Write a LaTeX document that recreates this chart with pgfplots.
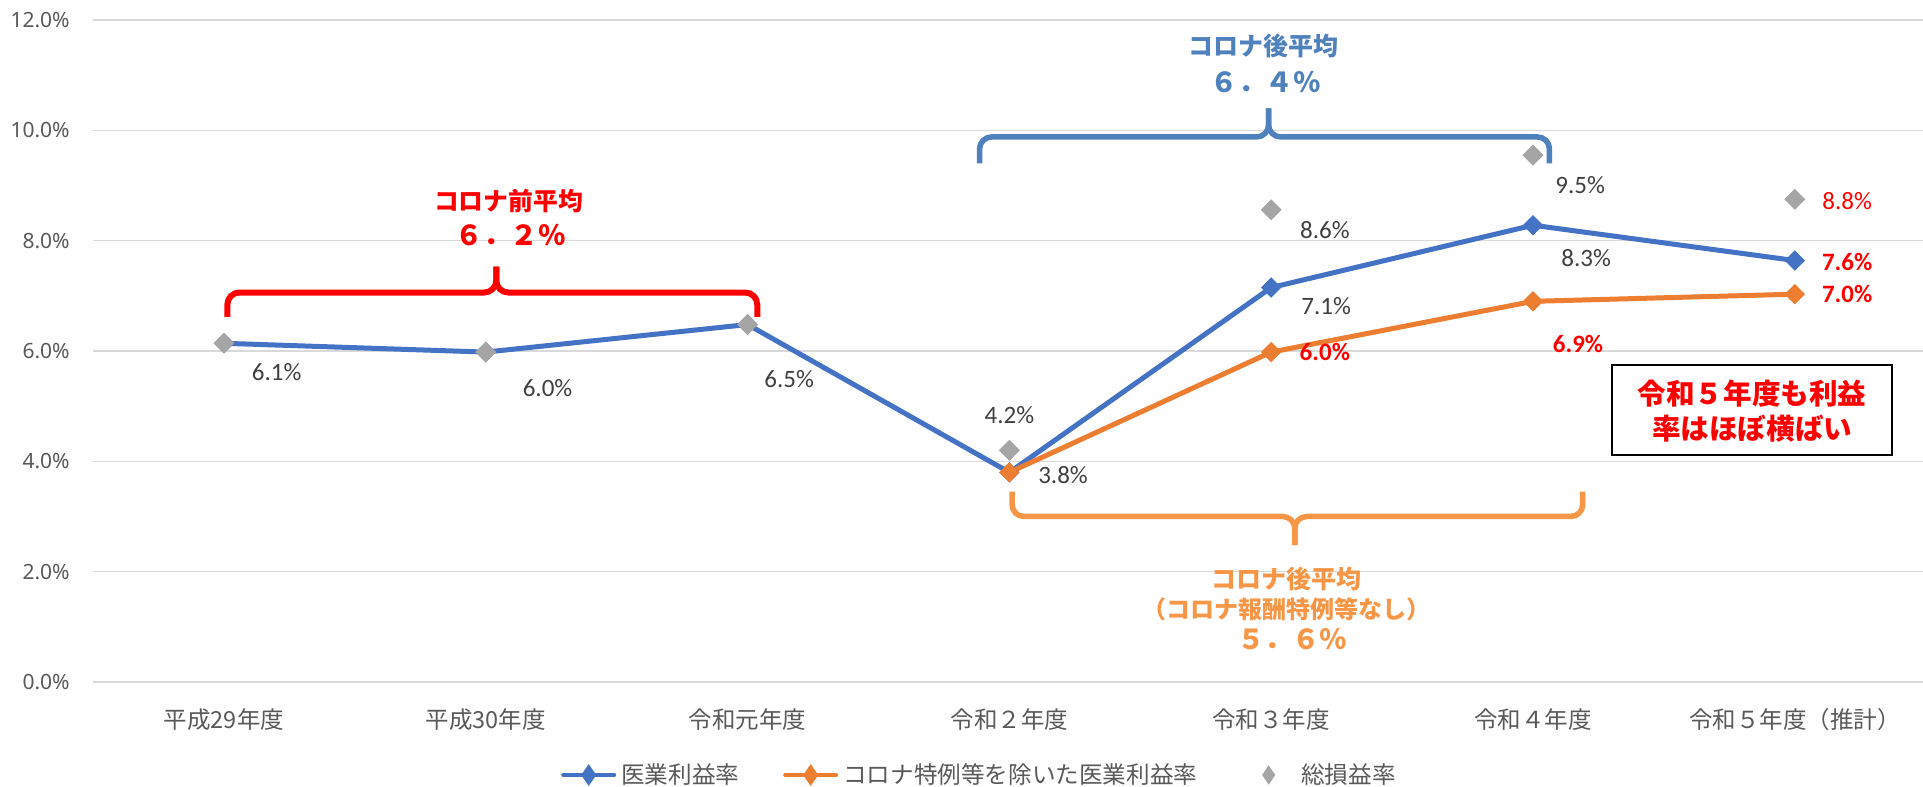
\documentclass[border=0pt]{standalone}
\usepackage{pgfplots}
\pgfplotsset{compat=1.18}
\usepackage{fontspec}
\setmainfont{Carlito}
\newfontfamily\jp{Noto Sans CJK JP}
\newfontfamily\nsans{Noto Sans}

\definecolor{cblue}{HTML}{4472C4}
\definecolor{corange}{HTML}{ED7D31}
\definecolor{cgray}{HTML}{A5A5A5}
\definecolor{bblue}{HTML}{4F81BD}
\definecolor{borange}{HTML}{F79646}
\definecolor{lblgray}{HTML}{404040}
\definecolor{tickgray}{HTML}{595959}
\definecolor{gridgray}{HTML}{D9D9D9}
\definecolor{cred}{HTML}{FF0000}

\tikzset{
  lbl/.style={font=\fontsize{12.5}{14}\selectfont, text=lblgray, inner sep=0pt, anchor=center},
  rlbl/.style={font=\fontsize{12.5}{14}\selectfont, text=cred, inner sep=0pt, anchor=center},
  rblbl/.style={font=\bfseries\fontsize{12.5}{14}\selectfont, text=cred, inner sep=0pt, anchor=center},
}

\begin{document}
\begin{tikzpicture}
\path[use as bounding box] (-46.55pt,-52.5pt) rectangle (914.95pt,341pt);
\begin{axis}[
  at={(0,0)}, anchor=south west,
  scale only axis, width=916.3pt, height=331pt,
  xmin=-0.5, xmax=6.5, ymin=0, ymax=12,
  clip=false,
  xtick={0,...,6},
  xticklabels={平成29年度, 平成30年度, 令和元年度, 令和２年度, 令和３年度, 令和４年度, 令和５年度（推計）},
  ytick={0,2,...,12},
  /pgf/number format/assume math mode=true,
  yticklabel={\pgfmathprintnumber[fixed,fixed zerofill,precision=1]{\tick}\%},
  yticklabel style={font=\nsans\fontsize{10.5}{12}\selectfont, text=tickgray, anchor=east, inner sep=0pt, xshift=-11.5pt},
  xticklabel style={font=\jp\fontsize{11.75}{13}\selectfont, text=tickgray, anchor=center, inner sep=0pt, yshift=-19pt},
  axis line style={draw=none},
  major tick length=0pt,
  tick style={draw=none},
  ymajorgrids,
  grid style={draw=gridgray, line width=0.7pt},
  legend style={at={(0.4831,-0.1405)}, anchor=center, draw=none, fill=none,
    legend columns=3, font=\jp\fontsize{11.8}{13}\selectfont, text=tickgray,
    /tikz/every odd column/.append style={column sep=2.5pt},
    /tikz/every even column/.append style={column sep=22pt},
    nodes={inner sep=0pt}},
  legend cell align=left,
]
% 医業利益率
\addplot[color=cblue, line width=2.5pt, mark=square*, mark size=3.4pt,
  mark options={rotate=45, line width=0.4pt},
  legend image code/.code={\draw[line width=2pt, line cap=round] (1pt,0pt) -- (26.5pt,0pt);
    \fill (13.75pt,3.25pt) -- (16pt,0pt) -- (13.75pt,-3.25pt) -- (11.5pt,0pt) -- cycle;}]
  coordinates {(0,6.14) (1,5.98) (2,6.48) (3,3.8) (4,7.15) (5,8.28) (6,7.64)};
\addlegendentry{医業利益率}
% コロナ特例等を除いた医業利益率
\addplot[color=corange, line width=2.5pt, mark=square*, mark size=3.4pt,
  mark options={rotate=45, line width=0.4pt},
  legend image code/.code={\draw[line width=2pt, line cap=round] (1pt,0pt) -- (26.5pt,0pt);
    \fill (13.75pt,3.25pt) -- (16pt,0pt) -- (13.75pt,-3.25pt) -- (11.5pt,0pt) -- cycle;}]
  coordinates {(3,3.8) (4,5.98) (5,6.9) (6,7.03)};
\addlegendentry{コロナ特例等を除いた医業利益率}
% 総損益率
\addplot[color=cgray, only marks, mark=square*, mark size=3.5pt,
  mark options={rotate=45, line width=0.4pt},
  legend image code/.code={\path[draw=none, fill=none] (0pt,0pt) -- (27.5pt,0pt);
    \fill (13.75pt,4.5pt) -- (16.75pt,0pt) -- (13.75pt,-4.5pt) -- (10.75pt,0pt) -- cycle;}]
  coordinates {(0,6.14) (1,5.98) (2,6.48) (3,4.2) (4,8.56) (5,9.55) (6,8.75)};
\addlegendentry{総損益率}

% data labels
\node[lbl] at (axis cs:0.201,5.624) {6.1\%};
\node[lbl] at (axis cs:1.236,5.32) {6.0\%};
\node[lbl] at (axis cs:2.159,5.49) {6.5\%};
\node[lbl] at (axis cs:3.0,4.84) {4.2\%};
\node[lbl] at (axis cs:3.205,3.76) {3.8\%};
\node[lbl] at (axis cs:4.205,8.19) {8.6\%};
\node[lbl] at (axis cs:4.21,6.82) {7.1\%};
\node[rblbl] at (axis cs:4.205,5.99) {6.0\%};
\node[lbl] at (axis cs:5.18,9.0) {9.5\%};
\node[lbl] at (axis cs:5.203,7.68) {8.3\%};
\node[rblbl] at (axis cs:5.172,6.13) {6.9\%};
\node[rlbl] at (axis cs:6.2,8.72) {8.8\%};
\node[rblbl] at (axis cs:6.2,7.62) {7.6\%};
\node[rblbl] at (axis cs:6.2,7.03) {7.0\%};

% red brace
\draw[cred, line width=3pt, rounded corners=6pt] (axis cs:0.013,6.62) |- (axis cs:1.04,7.06) -- (axis cs:1.04,7.53);
\draw[cred, line width=3pt, rounded corners=6pt] (axis cs:2.037,6.62) |- (axis cs:1.04,7.06) -- (axis cs:1.04,7.53);
\node[font=\jp\bfseries\fontsize{12.4}{14}\selectfont, text=cred, inner sep=0pt] at (axis cs:1.087,8.71) {コロナ前平均};
\node[font=\jp\bfseries\fontsize{13.75}{15}\selectfont, text=cred, inner sep=0pt] at (axis cs:1.095,8.1) {６．２％};

% blue brace
\draw[bblue, line width=2.75pt, rounded corners=6pt] (axis cs:2.886,9.4) |- (axis cs:3.99,9.88) -- (axis cs:3.99,10.4);
\draw[bblue, line width=2.75pt, rounded corners=6pt] (axis cs:5.063,9.4) |- (axis cs:3.99,9.88) -- (axis cs:3.99,10.4);
\node[font=\jp\bfseries\fontsize{12.5}{14}\selectfont, text=bblue, inner sep=0pt] at (axis cs:3.97,11.52) {コロナ後平均};
\node[font=\jp\bfseries\fontsize{13.75}{15}\selectfont, text=bblue, inner sep=0pt] at (axis cs:3.98,10.88) {６．４％};

% orange brace
\draw[borange, line width=2.75pt, rounded corners=6pt] (axis cs:3.01,3.45) |- (axis cs:4.09,3.0) -- (axis cs:4.09,2.48);
\draw[borange, line width=2.75pt, rounded corners=6pt] (axis cs:5.19,3.45) |- (axis cs:4.09,3.0) -- (axis cs:4.09,2.48);
\node[font=\jp\bfseries\fontsize{12.5}{14}\selectfont, text=borange, inner sep=0pt] at (axis cs:4.06,1.87) {コロナ後平均};
\node[font=\jp\bfseries\fontsize{12}{14}\selectfont, text=borange, inner sep=0pt] at (axis cs:4.06,1.32) {（コロナ報酬特例等なし）};
\node[font=\jp\bfseries\fontsize{13.75}{15}\selectfont, text=borange, inner sep=0pt] at (axis cs:4.08,0.77) {５．６％};

% box
\draw[black, line width=1pt, fill=white] (axis cs:5.30,4.11) rectangle (axis cs:6.37,5.75);
\node[font=\jp\bfseries\fontsize{14.3}{17.5}\selectfont, text=cred, inner sep=0pt, align=center] at (axis cs:5.837,4.915) {令和５年度も利益\\率はほぼ横ばい};
\end{axis}
\end{tikzpicture}
\end{document}
